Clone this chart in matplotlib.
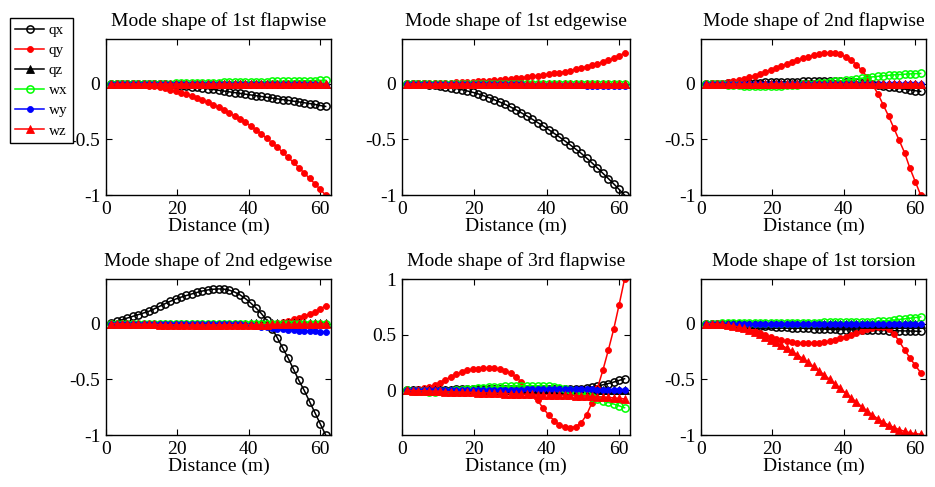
import matplotlib.pyplot as plt

plt.rcParams['font.family'] = ['Liberation Serif', 'DejaVu Serif']
plt.rcParams['axes.unicode_minus'] = False

# blade stations (m)
distance = [1.5, 3.0, 4.5, 6.0, 7.5, 9.0, 10.5, 12.0, 13.5, 15.0,
            16.5, 18.0, 19.5, 21.0, 22.5, 24.0, 25.5, 27.0, 28.5, 30.0,
            31.5, 33.0, 34.5, 36.0, 37.5, 39.0, 40.5, 42.0, 43.5, 45.0,
            46.5, 48.0, 49.5, 51.0, 52.5, 54.0, 55.5, 57.0, 58.5, 60.0, 61.5]

flat = [0, 0, 0, 0, 0, 0, 0, 0, 0, 0,
        0, 0, 0, 0, 0, 0, 0, 0, 0, 0,
        0, 0, 0, 0, 0, 0, 0, 0, 0, 0,
        0, 0, 0, 0, 0, 0, 0, 0, 0, 0, 0]

# 1st flapwise
f1_qx = [0, 0, 0, 0, 0, 0, -0.001, -0.001, -0.002, -0.004,
         -0.007, -0.01, -0.014, -0.018, -0.023, -0.028, -0.034, -0.04, -0.046, -0.053,
         -0.06, -0.067, -0.074, -0.081, -0.088, -0.095, -0.102, -0.109, -0.116, -0.123,
         -0.13, -0.137, -0.144, -0.151, -0.158, -0.165, -0.172, -0.179, -0.187, -0.197, -0.205]
f1_qy = [0, 0, 0, -0.003, -0.005, -0.008, -0.012, -0.018, -0.025, -0.033,
         -0.043, -0.055, -0.068, -0.082, -0.097, -0.113, -0.13, -0.148, -0.168, -0.19,
         -0.213, -0.237, -0.263, -0.29, -0.318, -0.348, -0.38, -0.415, -0.452, -0.491,
         -0.531, -0.573, -0.617, -0.662, -0.708, -0.755, -0.803, -0.851, -0.9, -0.95, -1.0]
f1_wx = [0, 0, 0, 0, 0, 0, 0, 0, 0, 0,
         0, 0, 0.001, 0.002, 0.003, 0.004, 0.005, 0.006, 0.007, 0.008,
         0.009, 0.01, 0.011, 0.012, 0.013, 0.014, 0.015, 0.016, 0.017, 0.018,
         0.019, 0.02, 0.021, 0.022, 0.023, 0.024, 0.025, 0.026, 0.027, 0.028, 0.03]
f1_wy = [0, 0, 0, 0, 0, 0, 0, 0, 0, 0,
         0, 0, 0, 0, 0, -0.001, -0.001, -0.001, -0.002, -0.002,
         -0.002, -0.003, -0.003, -0.003, -0.004, -0.004, -0.004, -0.005, -0.005, -0.005,
         -0.006, -0.006, -0.006, -0.007, -0.007, -0.007, -0.008, -0.008, -0.008, -0.009, -0.009]

# 1st edgewise
e1_qx = [0, -0.001, -0.003, -0.006, -0.01, -0.015, -0.021, -0.028, -0.036, -0.045,
         -0.055, -0.066, -0.078, -0.092, -0.108, -0.126, -0.145, -0.165, -0.187, -0.21,
         -0.236, -0.263, -0.291, -0.32, -0.35, -0.381, -0.413, -0.446, -0.48, -0.515,
         -0.551, -0.588, -0.626, -0.668, -0.712, -0.758, -0.805, -0.852, -0.9, -0.95, -1.0]
e1_qy = [0, 0, 0.001, 0.001, 0.002, 0.003, 0.004, 0.006, 0.008, 0.01,
         0.012, 0.014, 0.016, 0.019, 0.022, 0.025, 0.029, 0.033, 0.037, 0.042,
         0.047, 0.052, 0.058, 0.064, 0.07, 0.077, 0.084, 0.091, 0.099, 0.107,
         0.116, 0.127, 0.14, 0.152, 0.165, 0.179, 0.194, 0.21, 0.228, 0.25, 0.275]
e1_wy = [0, 0, 0, 0, 0, 0, 0, 0, 0, -0.001,
         -0.001, -0.002, -0.002, -0.003, -0.003, -0.004, -0.005, -0.005, -0.006, -0.007,
         -0.008, -0.008, -0.009, -0.01, -0.011, -0.012, -0.012, -0.013, -0.014, -0.015,
         -0.016, -0.017, -0.017, -0.018, -0.019, -0.02, -0.021, -0.022, -0.022, -0.023, -0.024]

# 2nd flapwise
f2_qx = [0, 0, 0, 0, 0.001, 0.002, 0.003, 0.004, 0.005, 0.007,
         0.008, 0.01, 0.011, 0.013, 0.014, 0.015, 0.017, 0.018, 0.019, 0.02,
         0.021, 0.021, 0.022, 0.022, 0.021, 0.02, 0.018, 0.015, 0.011, 0.007,
         0.003, -0.005, -0.012, -0.02, -0.028, -0.035, -0.043, -0.05, -0.057, -0.064, -0.07]
f2_qy = [0, 0.001, 0.003, 0.007, 0.012, 0.02, 0.03, 0.042, 0.055, 0.07,
         0.086, 0.104, 0.122, 0.14, 0.158, 0.176, 0.193, 0.21, 0.226, 0.24,
         0.252, 0.263, 0.272, 0.276, 0.273, 0.262, 0.24, 0.21, 0.17, 0.12,
         0.06, -0.01, -0.09, -0.19, -0.29, -0.4, -0.51, -0.62, -0.76, -0.88, -1.0]
f2_wx = [0, -0.002, -0.005, -0.008, -0.011, -0.014, -0.016, -0.018, -0.019, -0.02,
         -0.02, -0.02, -0.02, -0.019, -0.018, -0.016, -0.014, -0.011, -0.008, -0.004,
         0.0, 0.004, 0.009, 0.014, 0.019, 0.024, 0.03, 0.036, 0.042, 0.048,
         0.054, 0.06, 0.065, 0.07, 0.074, 0.078, 0.081, 0.084, 0.087, 0.089, 0.091]

# 2nd edgewise
e2_qx = [0.005, 0.02, 0.035, 0.05, 0.065, 0.08, 0.095, 0.11, 0.132, 0.155,
         0.178, 0.2, 0.22, 0.237, 0.252, 0.266, 0.28, 0.292, 0.302, 0.308,
         0.311, 0.309, 0.3, 0.283, 0.258, 0.225, 0.185, 0.14, 0.09, 0.03,
         -0.045, -0.13, -0.22, -0.31, -0.41, -0.51, -0.6, -0.7, -0.8, -0.9, -1.0]
e2_qy = [0, -0.001, -0.002, -0.003, -0.005, -0.006, -0.008, -0.009, -0.011, -0.012,
         -0.013, -0.014, -0.015, -0.016, -0.017, -0.017, -0.018, -0.018, -0.018, -0.018,
         -0.018, -0.017, -0.017, -0.016, -0.015, -0.014, -0.013, -0.011, -0.009, -0.006,
         -0.002, 0.005, 0.015, 0.026, 0.038, 0.051, 0.066, 0.083, 0.103, 0.13, 0.162]
e2_qz = [0, 0, 0, 0, 0, 0, 0, 0, 0, 0,
         0, 0, 0, 0, 0, 0, 0, 0, 0, 0,
         0, 0, 0, 0, 0, 0, 0.001, 0.001, 0.002, 0.002,
         0.003, 0.003, 0.004, 0.004, 0.005, 0.005, 0.006, 0.006, 0.007, 0.007, 0.008]
e2_wy = [0, 0, 0, 0, 0, 0, 0, 0, 0, 0,
         0, 0, 0, 0, 0, 0, 0, 0, 0, 0,
         0, 0, 0, -0.002, -0.005, -0.009, -0.014, -0.02, -0.027, -0.034,
         -0.041, -0.047, -0.052, -0.057, -0.061, -0.064, -0.067, -0.069, -0.071, -0.073, -0.075]
e2_wz = [0, -0.001, -0.002, -0.003, -0.004, -0.005, -0.006, -0.007, -0.008, -0.009,
         -0.01, -0.011, -0.011, -0.012, -0.012, -0.012, -0.012, -0.012, -0.012, -0.012,
         -0.012, -0.012, -0.011, -0.011, -0.011, -0.01, -0.01, -0.01, -0.009, -0.009,
         -0.008, -0.008, -0.007, -0.007, -0.006, -0.006, -0.005, -0.005, -0.004, -0.004, -0.003]

# 3rd flapwise
f3_qx = [0, 0.001, 0.002, 0.003, 0.004, 0.005, 0.006, 0.007, 0.008, 0.009,
         0.01, 0.01, 0.011, 0.011, 0.012, 0.012, 0.012, 0.012, 0.012, 0.012,
         0.012, 0.011, 0.011, 0.01, 0.01, 0.01, 0.01, 0.01, 0.01, 0.011,
         0.012, 0.014, 0.017, 0.021, 0.028, 0.038, 0.05, 0.062, 0.075, 0.09, 0.105]
f3_qy = [0.0, 0.005, 0.013, 0.022, 0.032, 0.048, 0.07, 0.097, 0.122, 0.145,
         0.165, 0.18, 0.19, 0.196, 0.2, 0.201, 0.198, 0.19, 0.175, 0.153,
         0.12, 0.075, 0.02, -0.035, -0.09, -0.16, -0.22, -0.27, -0.31, -0.33,
         -0.335, -0.325, -0.29, -0.22, -0.11, 0.02, 0.18, 0.36, 0.55, 0.77, 1.0]
f3_wx = [0, -0.003, -0.006, -0.008, -0.01, -0.01, -0.009, -0.007, -0.004, 0.0,
         0.005, 0.01, 0.015, 0.02, 0.024, 0.028, 0.031, 0.034, 0.036, 0.038,
         0.04, 0.041, 0.042, 0.042, 0.041, 0.039, 0.036, 0.031, 0.024, 0.015,
         0.004, -0.01, -0.025, -0.042, -0.06, -0.077, -0.093, -0.108, -0.122, -0.138, -0.155]
f3_wy = [0, 0, 0.001, 0.001, 0.002, 0.002, 0.003, 0.003, 0.004, 0.004,
         0.005, 0.005, 0.006, 0.006, 0.006, 0.007, 0.007, 0.007, 0.008, 0.008,
         0.008, 0.008, 0.009, 0.009, 0.009, 0.009, 0.009, 0.009, 0.009, 0.009,
         0.009, 0.009, 0.009, 0.009, 0.009, 0.008, 0.008, 0.008, 0.008, 0.008, 0.008]
f3_wz = [0, -0.001, -0.002, -0.004, -0.005, -0.007, -0.008, -0.01, -0.012, -0.013,
         -0.015, -0.017, -0.018, -0.02, -0.022, -0.023, -0.025, -0.026, -0.028, -0.03,
         -0.031, -0.033, -0.034, -0.035, -0.037, -0.038, -0.039, -0.04, -0.041, -0.043,
         -0.044, -0.046, -0.048, -0.05, -0.053, -0.056, -0.059, -0.063, -0.067, -0.071, -0.076]

# 1st torsion
t1_qx = [0, 0, -0.001, -0.002, -0.004, -0.006, -0.008, -0.011, -0.014, -0.017,
         -0.02, -0.023, -0.026, -0.029, -0.032, -0.035, -0.038, -0.04, -0.042, -0.044,
         -0.046, -0.048, -0.05, -0.052, -0.053, -0.054, -0.055, -0.056, -0.057, -0.058,
         -0.059, -0.06, -0.061, -0.062, -0.063, -0.064, -0.065, -0.066, -0.067, -0.068, -0.07]
t1_qy = [0, -0.001, -0.003, -0.007, -0.012, -0.019, -0.028, -0.038, -0.053, -0.07,
         -0.088, -0.106, -0.123, -0.138, -0.15, -0.159, -0.166, -0.171, -0.174, -0.175,
         -0.174, -0.171, -0.166, -0.158, -0.147, -0.133, -0.117, -0.1, -0.082, -0.065,
         -0.05, -0.038, -0.03, -0.03, -0.045, -0.09, -0.16, -0.235, -0.31, -0.375, -0.44]
t1_wx = [0, 0, 0, 0.001, 0.001, 0.002, 0.002, 0.003, 0.003, 0.004,
         0.004, 0.005, 0.005, 0.006, 0.006, 0.007, 0.007, 0.008, 0.008, 0.008,
         0.009, 0.009, 0.01, 0.01, 0.011, 0.011, 0.012, 0.013, 0.014, 0.015,
         0.016, 0.018, 0.02, 0.023, 0.027, 0.032, 0.037, 0.042, 0.048, 0.054, 0.06]
t1_wz = [0, -0.001, -0.003, -0.007, -0.013, -0.021, -0.031, -0.044, -0.06, -0.078,
         -0.098, -0.12, -0.143, -0.167, -0.193, -0.221, -0.25, -0.281, -0.313, -0.346,
         -0.385, -0.423, -0.461, -0.5, -0.54, -0.58, -0.625, -0.665, -0.705, -0.745,
         -0.785, -0.82, -0.855, -0.885, -0.91, -0.933, -0.952, -0.967, -0.979, -0.988, -0.993]

names = ['qx', 'qy', 'qz', 'wx', 'wy', 'wz']
titles = ['Mode shape of 1st flapwise', 'Mode shape of 1st edgewise',
          'Mode shape of 2nd flapwise', 'Mode shape of 2nd edgewise',
          'Mode shape of 3rd flapwise', 'Mode shape of 1st torsion']
modes = [
    [f1_qx, f1_qy, flat, f1_wx, f1_wy, flat],
    [e1_qx, e1_qy, flat, flat, e1_wy, flat],
    [f2_qx, f2_qy, flat, f2_wx, flat, flat],
    [e2_qx, e2_qy, e2_qz, flat, e2_wy, e2_wz],
    [f3_qx, f3_qy, flat, f3_wx, f3_wy, f3_wz],
    [t1_qx, t1_qy, flat, t1_wx, flat, t1_wz],
]

styles = [
    dict(color='k', marker='o', mfc='none', ms=5.2, mew=1.1),
    dict(color='r', marker='o', mfc='r', ms=4.3, mew=0.6),
    dict(color='k', marker='^', mfc='k', ms=5.2, mew=0.6),
    dict(color=(0, 1, 0), marker='o', mfc='none', ms=5.2, mew=1.1),
    dict(color='b', marker='o', mfc='b', ms=4.3, mew=0.6),
    dict(color='r', marker='^', mfc='r', ms=6, mew=0.6),
]

# axes boxes in pixels: left, top, right, bottom
W, H = 935.0, 487.0
boxes = [(106, 39, 331, 195), (402, 39, 630, 195), (701, 39, 926, 195),
         (106, 279, 331, 435), (402, 279, 630, 435), (701, 279, 926, 435)]

fig = plt.figure(figsize=(9.35, 4.87), dpi=100)

handles = []
for k in range(6):
    l, t, r, b = boxes[k]
    ax = fig.add_axes([l / W, 1 - b / H, (r - l) / W, (b - t) / H])
    for j in range(6):
        h, = ax.plot(distance, modes[k][j], lw=1.1, label=names[j], **styles[j])
        if k == 0:
            handles.append(h)
    ax.set_xlim(0, 63)
    ax.set_xticks([0, 20, 40, 60])
    if k == 4:
        ax.set_ylim(-0.4, 1)
        ax.set_yticks([0, 0.5, 1])
        ax.set_yticklabels(['0', '0.5', '1'])
    else:
        ax.set_ylim(-1, 0.4)
        ax.set_yticks([-1, -0.5, 0])
        ax.set_yticklabels(['-1', '-0.5', '0'])
    ax.set_title(titles[k], fontsize=14, pad=9)
    ax.set_xlabel('Distance (m)', fontsize=14, labelpad=0)
    ax.tick_params(direction='in', top=True, right=True, labelsize=14, length=4, width=0.8, pad=4)
    for s in ax.spines.values():
        s.set_linewidth(1.0)

leg = fig.legend(handles, names, loc='upper left', bbox_to_anchor=(10 / W, 1 - 18 / H),
                 fontsize=11, frameon=True, fancybox=False, framealpha=1,
                 edgecolor='k', handlelength=1.9, handletextpad=0.3,
                 labelspacing=0.42, borderpad=0.35, borderaxespad=0)
leg.get_frame().set_linewidth(1.0)

fig.savefig('out.png', dpi=100)
